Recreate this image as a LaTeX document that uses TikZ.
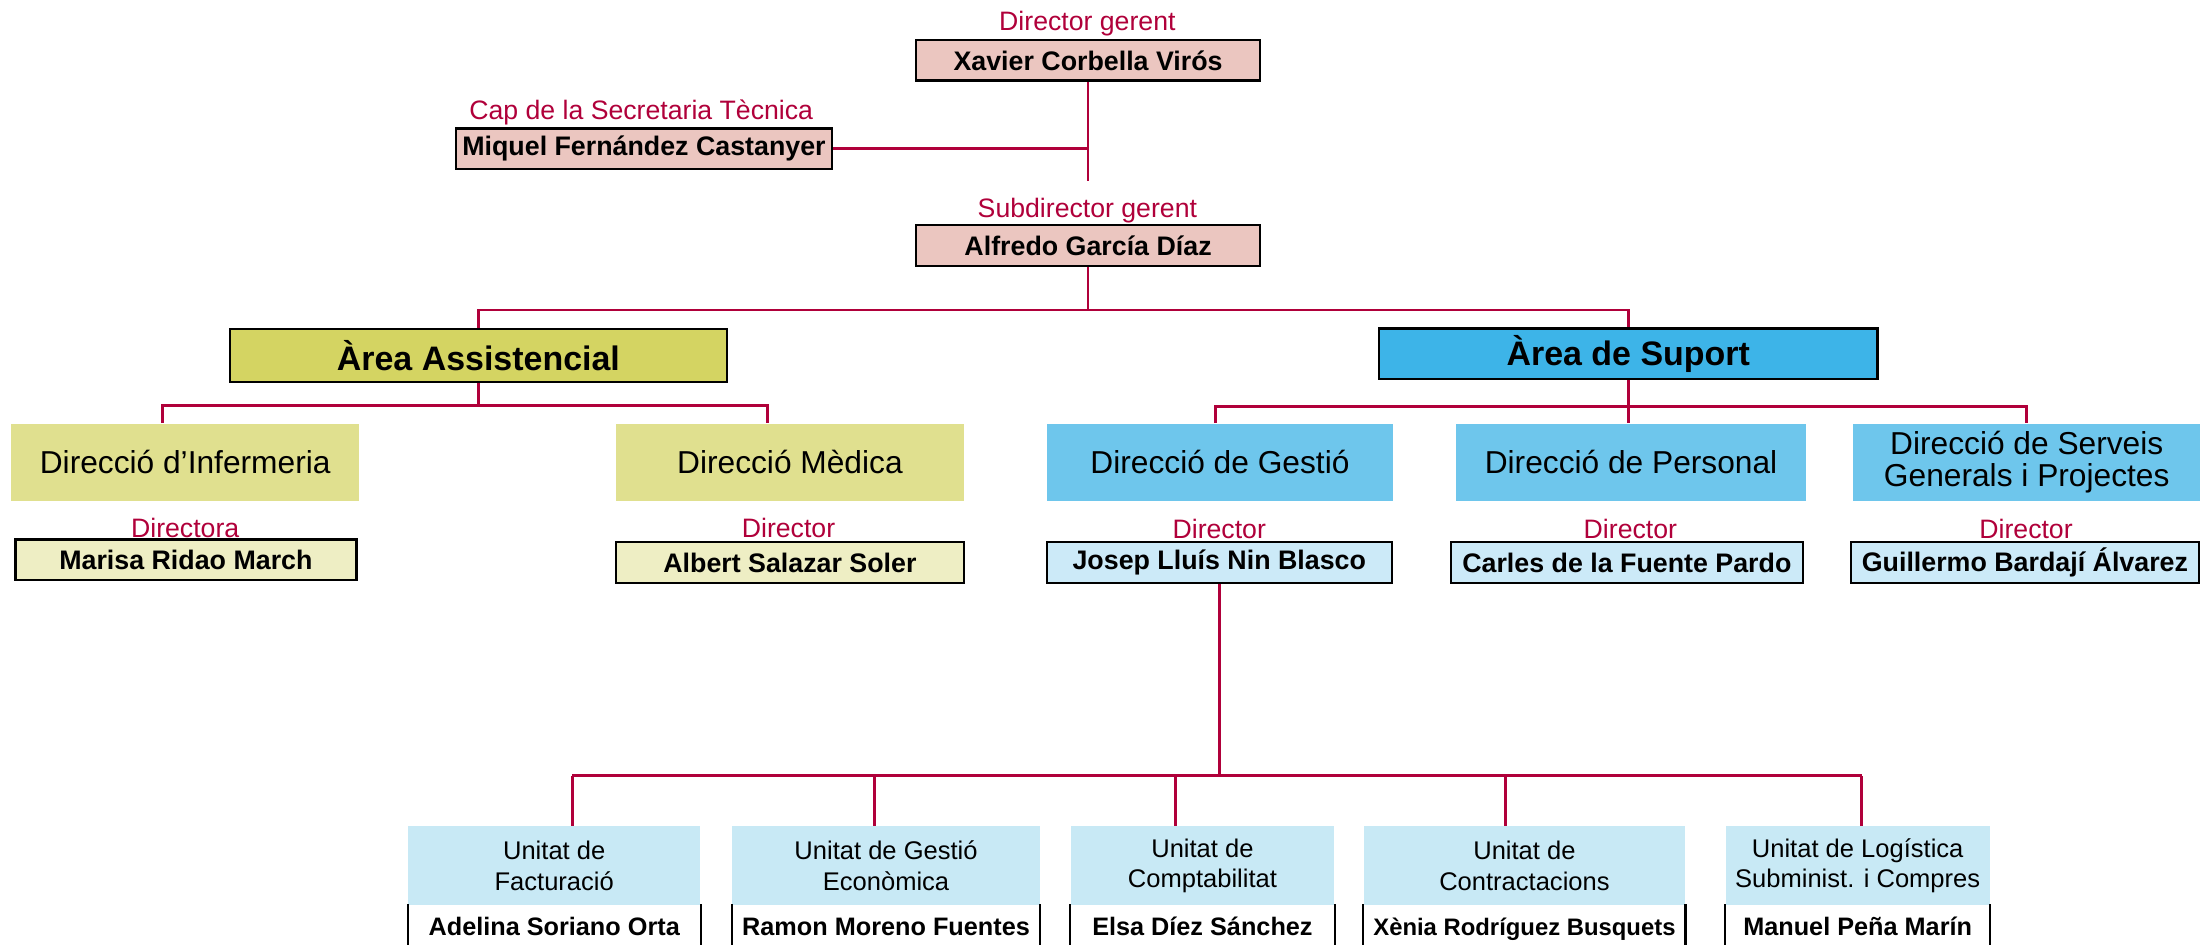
\documentclass[tikz,border=0pt]{standalone}
\usepackage{fontspec}
\setmainfont{Liberation Sans}
\usetikzlibrary{calc}

\definecolor{linkred}{RGB}{176,0,58}
\definecolor{topfill}{RGB}{235,198,192}
\definecolor{assistfill}{RGB}{212,212,98}
\definecolor{assistdir}{RGB}{224,224,143}
\definecolor{assistname}{RGB}{238,238,196}
\definecolor{suportfill}{RGB}{61,180,232}
\definecolor{suportdir}{RGB}{110,198,236}
\definecolor{suportname}{RGB}{204,234,248}
\definecolor{unitfill}{RGB}{200,233,245}

\begin{document}
\begin{tikzpicture}[x=1pt,y=-1pt,
    link/.style={draw=linkred,line width=1pt},
    role/.style={text=linkred,inner sep=0,font=\fontsize{9.5}{11}\selectfont},
    namebox/.style={draw=black,line width=0.85pt,inner sep=0,minimum height=14.5pt,font=\bfseries\fontsize{9.55}{11}\selectfont},
    areabox/.style={draw=black,line width=0.85pt,inner sep=0,minimum height=19pt,font=\bfseries\fontsize{12.1}{14}\selectfont},
    dirbox/.style={inner sep=0,minimum height=27.5pt,align=center,font=\fontsize{11.3}{11.4}\selectfont},
    unitbox/.style={fill=unitfill,inner sep=0,minimum height=28pt,align=center,font=\fontsize{9.1}{10.9}\selectfont},
    unitname/.style={fill=white,inner sep=0,minimum height=14pt,text height=9pt,text depth=1pt,font=\bfseries\fontsize{9}{11}\selectfont}]
  \useasboundingbox (0,0) rectangle (784,336.5);

  % direccio
  \node[role] (lblxavier) at (387.5,8.3) {Director gerent};
  \node[namebox,fill=topfill,minimum width=122.5pt] (xavier) at (387.75,21.5) {Xavier Corbella Virós};
  \node[role] (lblmiquel) at (228.5,40) {Cap de la Secretaria Tècnica};
  \node[namebox,fill=topfill,minimum width=134pt] (miquel) at (229.5,53) {Miquel Fernández Castanyer};
  \node[role] (lblalfredo) at (387.5,75) {Subdirector gerent};
  \node[namebox,fill=topfill,minimum width=122.5pt] (alfredo) at (387.75,87.5) {Alfredo García Díaz};
  \coordinate (xavend) at (387.75,64.5);
  \draw[link] (xavier.south) -- (xavend);
  \draw[link,line width=1.25pt] (miquel.east) -- (miquel.east -| xavend);

  % arees
  \node[areabox,fill=assistfill,minimum width=177pt] (assist) at (170.5,126.7) {Àrea Assistencial};
  \node[areabox,fill=suportfill,minimum width=177.5pt,minimum height=18pt] (suport) at (580.25,126) {Àrea de Suport};
  \coordinate (busa) at (387.75,110.5);
  \draw[link] (alfredo.south) -- (busa);
  \draw[link] (assist.north) |- (busa) -| (suport.north);

  % direccions
  \node[dirbox,fill=assistdir,minimum width=124pt] (infer) at (66,164.75) {Direcció d’Infermeria};
  \node[dirbox,fill=assistdir,minimum width=124pt] (medica) at (281.5,164.75) {Direcció Mèdica};
  \node[dirbox,fill=suportdir,minimum width=123.5pt] (gestio) at (434.75,164.75) {Direcció de Gestió};
  \node[dirbox,fill=suportdir,minimum width=124.5pt] (personal) at (581.25,164.75) {Direcció de Personal};
  \node[dirbox,fill=suportdir,minimum width=123.5pt] (serveis) at (722.25,164.75) {Direcció de Serveis\\Generals i Projectes};

  \coordinate (busb) at (170.5,144.5);
  \draw[link] (assist.south) -- (busb);
  \draw[link] ([xshift=-8pt]infer.north) |- (busb) -| ([xshift=-8pt]medica.north);
  \coordinate (busc) at (580.25,145);
  \draw[link] (suport.south) -- (personal.north -| suport.south);
  \draw[link] ([xshift=-1.5pt]gestio.north) |- (busc) -| (serveis.north);

  % directors
  \node[role] (lblmarisa) at (66,188) {Directora};
  \node[namebox,fill=assistname,minimum width=121.5pt] (marisa) at (66.25,199.5) {Marisa Ridao March};
  \node[role] (lblalbert) at (281,188) {Director};
  \node[namebox,fill=assistname,minimum width=124pt] (albert) at (281.5,200.5) {Albert Salazar Soler};
  \node[role] (lbljosep) at (434.5,188.5) {Director};
  \node[namebox,fill=suportname,minimum width=123pt] (josep) at (434.5,200.5) {Josep Lluís Nin Blasco};
  \node[role] (lblcarles) at (581,188.5) {Director};
  \node[namebox,fill=suportname,minimum width=125.5pt] (carles) at (579.75,200.5) {Carles de la Fuente Pardo};
  \node[role] (lblguillermo) at (722,188.5) {Director};
  \node[namebox,fill=suportname,minimum width=124pt] (guillermo) at (721.6,200.5) {Guillermo Bardají Álvarez};

  % unitats de gestio
  \node[unitbox,minimum width=104pt] (fact) at (197.5,308.5) {Unitat de\\Facturació};
  \node[unitbox,minimum width=109.5pt] (econ) at (315.75,308.5) {Unitat de Gestió\\Econòmica};
  \node[unitbox,minimum width=94pt] (compt) at (428.5,308.5) {Unitat de\\Comptabilitat};
  \node[unitbox,minimum width=114.5pt] (contr) at (543.25,308.5) {Unitat de\\Contractacions};
  \node[unitbox,minimum width=94pt] (logist) at (662,308.5) {Unitat de Logística\\Subminist. i Compres};

  \node[unitname,minimum width=104pt] (factname) at (197.5,329.5) {Adelina Soriano Orta};
  \node[unitname,minimum width=109.5pt] (econname) at (315.75,329.5) {Ramon Moreno Fuentes};
  \node[unitname,minimum width=94pt] (comptname) at (428.5,329.5) {Elsa Díez Sánchez};
  \node[unitname,minimum width=114.5pt,font=\bfseries\fontsize{8.5}{11}\selectfont] (contrname) at (543.25,329.5) {Xènia Rodríguez Busquets};
  \node[unitname,minimum width=94pt] (logistname) at (662,329.5) {Manuel Peña Marín};
  \foreach \u in {factname,econname,comptname,contrname,logistname}
    \draw[line width=0.85pt] (\u.north west) -- (\u.south west) (\u.north east) -- (\u.south east);

  \coordinate (busd) at (434.5,276.5);
  \draw[link] (josep.south) -- (busd);
  \foreach \u/\dx in {fact/6.5,econ/-4.25,compt/-9.5,contr/-6.75,logist/1.5}
    \draw[link] ([xshift=\dx pt]\u.north) coordinate (\u-top) -- (\u-top |- busd);
  \draw[link] (fact-top |- busd) -- (logist-top |- busd);
\end{tikzpicture}
\end{document}
